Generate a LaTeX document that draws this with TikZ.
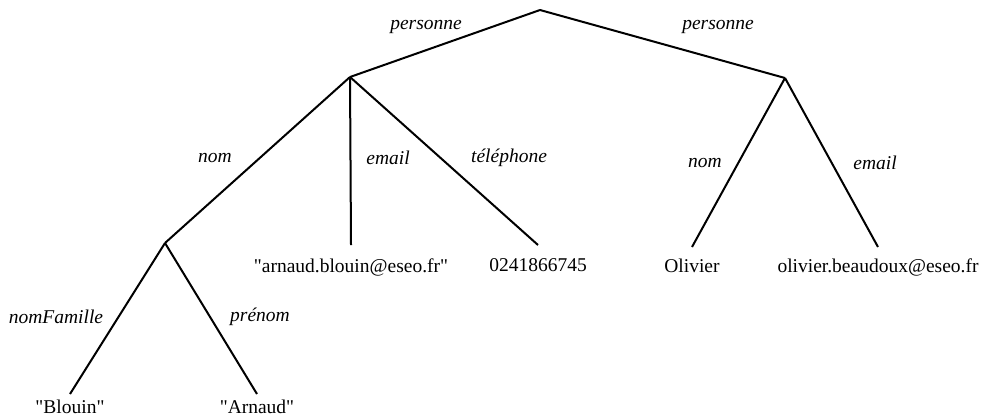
\documentclass[tikz,border=0pt]{standalone}
\usepackage{fontspec}
\setmainfont{Liberation Serif}
\usetikzlibrary{positioning}

\begin{document}
\begin{tikzpicture}[x=1pt,y=-1pt,line width=2pt,
	every node/.style={font=\fontsize{19.5}{23}\selectfont,inner sep=3pt},
	lab/.style={font=\fontsize{19.5}{23}\selectfont\itshape}]
\useasboundingbox (0,0) rectangle (984,416);

% noeuds de l'arbre
\coordinate (racine) at (540,10);
\coordinate (pers1) at (350,77);
\coordinate (pers2) at (785,78);
\coordinate (nom1) at (165,243);
\coordinate (mail1) at (351,245);
\coordinate (tel1) at (538,245);
\coordinate (nom2) at (692,247);
\coordinate (mail2) at (878,247);
\coordinate (famille) at (70,394);
\coordinate (prenom) at (257,394);

\draw (racine)--(pers1);
\draw (racine)--(pers2);
\draw (pers1)--(nom1);
\draw (pers1)--(mail1);
\draw (pers1)--(tel1);
\draw (pers2)--(nom2);
\draw (pers2)--(mail2);
\draw (nom1)--(famille);
\draw (nom1)--(prenom);

% valeurs
\node[below=10pt of mail1] (vmail1) {\textquotedbl arnaud.blouin@eseo.fr\textquotedbl};
\node[below=10pt of tel1] (vtel1) {0241866745};
\node[below=8pt of nom2] (vnom2) {Olivier};
\node[below=8pt of mail2] (vmail2) {olivier.beaudoux@eseo.fr};
\node[below=2pt of famille] (vfamille) {\textquotedbl Blouin\textquotedbl};
\node[below=2pt of prenom] (vprenom) {\textquotedbl Arnaud\textquotedbl};

% etiquettes
\node[lab] (lpers1) at (426,27){personne};
\node[lab] (lpers2) at (718,27){personne};
\node[lab] (lnom1) at (215,158){nom};
\node[lab] (lmail1) at (388,158){email};
\node[lab] (ltel1) at (509,158){téléphone};
\node[lab] (lnom2) at (705,163){nom};
\node[lab] (lmail2) at (875,163){email};
\node[lab] (lfamille) at (56,317){nomFamille};
\node[lab] (lprenom) at (260,317){prénom};
\end{tikzpicture}
\end{document}
